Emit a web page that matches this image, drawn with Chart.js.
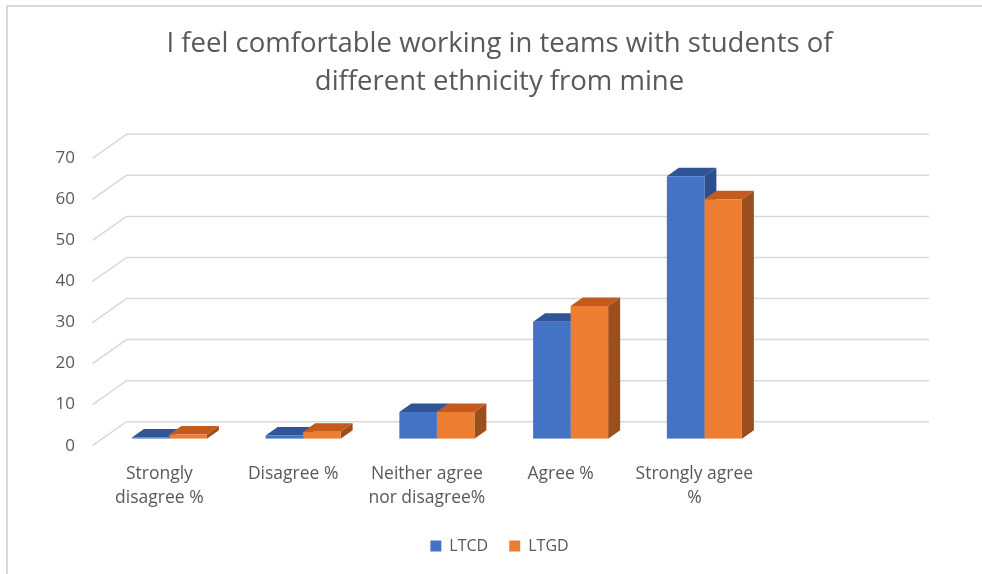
<!DOCTYPE html>
<html>
<head>
<meta charset="utf-8">
<title>Ethnicity teamwork survey</title>
<script src="https://cdn.jsdelivr.net/npm/chart.js@4/dist/chart.umd.min.js"></script>
<style>
  html, body { margin: 0; padding: 0; background: #fff; }
  #wrap { width: 982px; height: 574px; }
</style>
</head>
<body>
<div id="wrap"><canvas id="surveyChart" width="982" height="574"></canvas></div>
<script>
// categories (the last slot is left empty, as in the original workbook)
const categories = [
  ["Strongly", "disagree %"],
  "Disagree %",
  ["Neither agree", "nor disagree%"],
  "Agree %",
  ["Strongly agree", "%"],
  ""
];
const ltcd = [0.3, 0.8, 6.5, 28.5, 63.9];
const ltgd = [1.0, 1.7, 6.5, 32.3, 58.3];
const yTicks = [0, 10, 20, 30, 40, 50, 60, 70];

// 3d look: bar depth and wall offsets relative to the bar plane
const BAR_DX = 12, BAR_DY = -8.5;
const FRONT_DX = -10, FRONT_DY = 7;
const BACK_DX = 24, BACK_DY = -17;

const faceColors = [
  { top: "#2f5597", side: "#2b4e8c" },
  { top: "#c45b1c", side: "#9c4f1c" }
];

Chart.defaults.font.family = "'Open Sans', sans-serif";
Chart.defaults.color = "#595959";

function poly(ctx, pts, color) {
  ctx.beginPath();
  ctx.moveTo(pts[0][0], pts[0][1]);
  for (let i = 1; i < pts.length; i++) ctx.lineTo(pts[i][0], pts[i][1]);
  ctx.closePath();
  ctx.fillStyle = color;
  ctx.fill();
}

// white background + outer frame
const framePlugin = {
  id: "frame",
  beforeDraw(chart) {
    const ctx = chart.ctx;
    ctx.save();
    ctx.fillStyle = "#fff";
    ctx.fillRect(0, 0, chart.width, chart.height);
    ctx.strokeStyle = "#d9d9d9";
    ctx.lineWidth = 2;
    ctx.strokeRect(7, 6, chart.width + 20, chart.height + 20);
    ctx.restore();
  }
};

// back wall gridlines, side wall edges and the tops/sides of the bars
const depthPlugin = {
  id: "depth",
  beforeDatasetsDraw(chart) {
    const { ctx, chartArea: a } = chart;
    const y = chart.scales.y;
    ctx.save();
    ctx.strokeStyle = "#d9d9d9";
    ctx.lineWidth = 1.5;
    y.ticks.forEach(t => {
      const py = y.getPixelForValue(t.value);
      ctx.beginPath();
      ctx.moveTo(a.left + FRONT_DX, py + FRONT_DY);
      ctx.lineTo(a.left + BACK_DX, py + BACK_DY);
      ctx.lineTo(a.right + BACK_DX, py + BACK_DY);
      ctx.stroke();
    });

    const metas = chart.data.datasets.map((_, i) => chart.getDatasetMeta(i));
    const n = Math.max(...metas.map(m => m.data.length));
    for (let j = 0; j < n; j++) {
      metas.forEach((meta, i) => {
        const bar = meta.data[j];
        if (!bar) return;
        const { x, y: top, base, width } = bar.getProps(["x", "y", "base", "width"], true);
        if (isNaN(top)) return;
        const l = x - width / 2, r = x + width / 2;
        poly(ctx, [[l, top], [r, top], [r + BAR_DX, top + BAR_DY], [l + BAR_DX, top + BAR_DY]], faceColors[i].top);
        poly(ctx, [[r, top], [r + BAR_DX, top + BAR_DY], [r + BAR_DX, base + BAR_DY], [r, base]], faceColors[i].side);
      });
    }
    ctx.restore();
  }
};

const ctx = document.getElementById("surveyChart").getContext("2d");
new Chart(ctx, {
  type: "bar",
  data: {
    labels: categories,
    datasets: [
      { label: "LTCD", data: ltcd, backgroundColor: "#4472c4", borderWidth: 0 },
      { label: "LTGD", data: ltgd, backgroundColor: "#ed7d31", borderWidth: 0 }
    ]
  },
  options: {
    responsive: false,
    animation: false,
    devicePixelRatio: 1,
    layout: { padding: { left: 17, right: 0, top: 0, bottom: 10 } },
    datasets: { bar: { barPercentage: 1, categoryPercentage: 0.561 } },
    plugins: {
      title: {
        display: true,
        text: ["I feel comfortable working in teams with students of", "different ethnicity from mine"],
        color: "#595959",
        font: { size: 27.5, weight: "normal", lineHeight: 1.38 },
        padding: { top: 25, bottom: 50.4 }
      },
      legend: {
        position: "bottom",
        labels: { boxWidth: 11, boxHeight: 11, padding: 21, color: "#595959", font: { size: 16 } }
      },
      tooltip: { enabled: false }
    },
    scales: {
      x: {
        grid: { display: false, drawTicks: false },
        border: { display: false },
        ticks: {
          autoSkip: false, maxRotation: 0, minRotation: 0,
          padding: 23.5, labelOffset: -10,
          color: "#595959", font: { size: 17.5, lineHeight: 1.35 }
        },
        afterFit(s) { s.height = 78.3; }
      },
      y: {
        min: 0, max: 70,
        afterBuildTicks(s) { s.ticks = yTicks.map(v => ({ value: v })); },
        grid: { display: false, drawTicks: false },
        border: { display: false },
        ticks: { padding: 27.5, labelOffset: 7, color: "#595959", font: { size: 17 } },
        afterFit(s) { s.width = 85.5; }
      },
      yRight: {
        position: "right",
        min: 0, max: 70,
        grid: { display: false, drawTicks: false },
        border: { display: false },
        ticks: { display: false },
        afterFit(s) { s.width = 77; }
      }
    }
  },
  plugins: [framePlugin, depthPlugin]
});
</script>
</body>
</html>
